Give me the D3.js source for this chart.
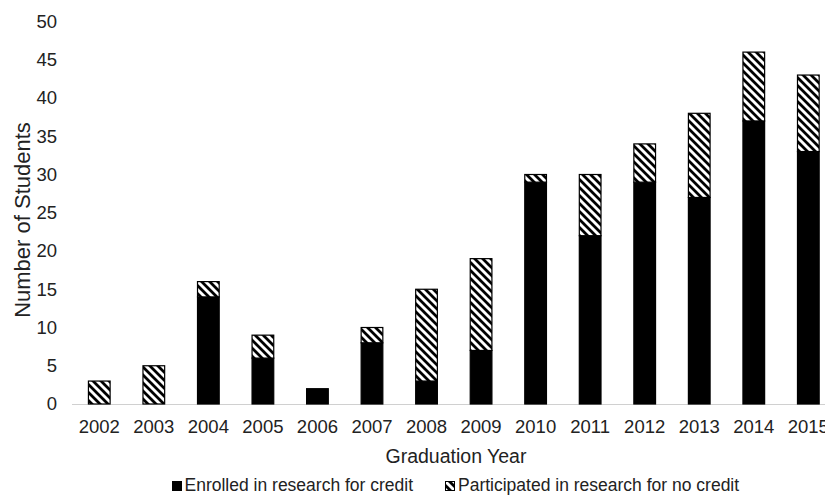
<!DOCTYPE html>
<html><head><meta charset="utf-8">
<script src="https://cdn.jsdelivr.net/npm/d3@7"></script>
<style>body{margin:0;background:#fff;}svg{display:block;font-family:"Liberation Sans",Arial,sans-serif;}</style>
</head><body>
<svg id="c" width="825" height="496"></svg>
<script>
const years = ["2002","2003","2004","2005","2006","2007","2008","2009","2010","2011","2012","2013","2014","2015"];
const enrolled = [0,0,14,6,2,8,3,7,29,22,29,27,37,33];
const participated = [3,5,2,3,0,2,12,12,1,8,5,11,9,10];
const yTicks = [0,5,10,15,20,25,30,35,40,45,50];
const seriesNames = ["Enrolled in research for credit","Participated in research for no credit"];

const svg = d3.select("#c");
const defs = svg.append("defs");
const pat = defs.append("pattern").attr("id","hatch").attr("patternUnits","userSpaceOnUse")
  .attr("width",8).attr("height",8);
pat.append("rect").attr("width",8).attr("height",8).attr("fill","#fff");
pat.append("path").attr("d","M-2,-2 L10,10 M-2,6 L2,10 M6,-2 L10,2").attr("stroke","#000").attr("stroke-width",2.8);

const x0 = 72, x1 = 835.6, yTop = 21.5, yBot = 404;
const x = d3.scaleBand().domain(years).range([x0,x1]).paddingInner(0.584).paddingOuter(0.292);
const y = d3.scaleLinear().domain([0,50]).range([yBot,yTop]);

const data = years.map((yr,i)=>({yr, a:enrolled[i], b:participated[i]}));
const stack = d3.stack().keys(["a","b"])(data);

// x axis line
svg.append("line").attr("x1",x0).attr("x2",825).attr("y1",yBot+0.5).attr("y2",yBot+0.5)
  .attr("stroke","#d0d0d0").attr("stroke-width",1.2);

// bars
const fills = ["#000","url(#hatch)"];
stack.forEach((s,k)=>{
  svg.append("g").selectAll("rect").data(s.filter(d=>d[1]-d[0]>0)).join("rect")
    .attr("x",d=>x(d.data.yr)+0.5).attr("width",x.bandwidth()-1)
    .attr("y",d=>y(d[1])).attr("height",d=>y(d[0])-y(d[1]))
    .attr("fill",fills[k]).attr("stroke","#000").attr("stroke-width",1.2);
});

// y tick labels
const yAxis = d3.axisLeft(y).tickValues(yTicks).tickSize(0).tickPadding(0);
const gy = svg.append("g").attr("transform",`translate(57,0)`).call(yAxis);
gy.select(".domain").remove();
gy.selectAll("text").attr("font-size",18.5).attr("fill","#222").attr("font-family","Liberation Sans, Arial, sans-serif");

// x tick labels
const xAxis = d3.axisBottom(x).tickSize(0).tickPadding(0);
const gx = svg.append("g").attr("transform",`translate(0,${yBot+16})`).call(xAxis);
gx.select(".domain").remove();
gx.selectAll("text").attr("font-size",18.5).attr("fill","#222").attr("font-family","Liberation Sans, Arial, sans-serif");

// axis titles
svg.append("text").attr("x",456).attr("y",463).attr("text-anchor","middle")
  .attr("font-size",19.5).attr("fill","#222").text("Graduation Year");
svg.append("text").attr("transform","translate(29.5,220) rotate(-90)").attr("text-anchor","middle")
  .attr("font-size",22).attr("fill","#222").text("Number of Students");

// legend
const lg = svg.append("g");
lg.append("rect").attr("x",172).attr("y",481).attr("width",10).attr("height",10).attr("fill","#000");
lg.append("text").attr("x",184.5).attr("y",491).attr("font-size",17.5).attr("fill","#222").text(seriesNames[0]);
lg.append("rect").attr("x",445.5).attr("y",481.5).attr("width",9).attr("height",9).attr("fill","url(#hatch)").attr("stroke","#000").attr("stroke-width",1);
lg.append("text").attr("x",458).attr("y",491).attr("font-size",17.5).attr("fill","#222").text(seriesNames[1]);
</script>
</body></html>
